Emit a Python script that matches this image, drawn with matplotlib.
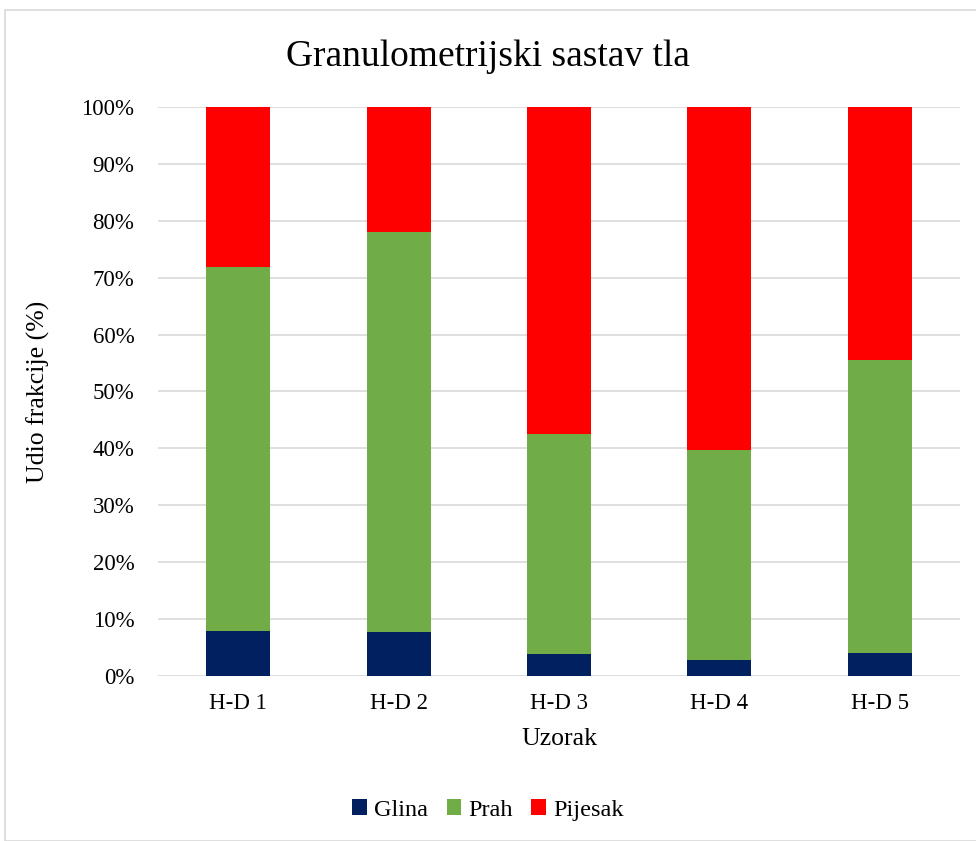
import matplotlib.pyplot as plt
from matplotlib.patches import Rectangle
import numpy as np

# Data (percent of each fraction)
samples = ["H-D 1", "H-D 2", "H-D 3", "H-D 4", "H-D 5"]
glina = [7.9, 7.7, 3.8, 2.8, 4.0]
prah = [63.95, 70.4, 38.8, 36.85, 51.5]
pijesak = [28.15, 21.9, 57.4, 60.35, 44.5]

colors = {"Glina": "#002060", "Prah": "#70AD47", "Pijesak": "#FF0000"}

plt.rcParams['font.family'] = ['Liberation Serif', 'DejaVu Serif']

fig = plt.figure(figsize=(9.76, 8.41), dpi=100)
fig.patches.append(Rectangle((5 / 976, 0), 1.0, 1 - 10 / 841, transform=fig.transFigure,
                             fill=False, edgecolor="#D9D9D9", linewidth=1.2))

ax = fig.add_axes([158 / 976, 1 - 676 / 841, 802 / 976, 569 / 841])

x = np.arange(len(samples))
w = 0.4
ax.bar(x, glina, w, color=colors["Glina"], label="Glina", zorder=3)
ax.bar(x, prah, w, bottom=glina, color=colors["Prah"], label="Prah", zorder=3)
bottom2 = np.array(glina) + np.array(prah)
ax.bar(x, pijesak, w, bottom=bottom2, color=colors["Pijesak"], label="Pijesak", zorder=3)

ax.set_xlim(-0.5, len(samples) - 0.5)
ax.set_ylim(0, 100)
ax.set_yticks(np.arange(0, 101, 10))
ax.set_yticklabels([f"{v}%" for v in range(0, 101, 10)], fontsize=16.5)
ax.set_xticks(x)
ax.set_xticklabels(samples, fontsize=16.5)
ax.tick_params(axis="y", length=0, pad=17)
ax.tick_params(axis="x", length=0, pad=12)
ax.grid(axis="y", color="#D9D9D9", linewidth=1.2, zorder=0)
for s in ["top", "right", "left", "bottom"]:
    ax.spines[s].set_visible(False)

ax.set_xlabel("Uzorak", fontsize=18.5, labelpad=10)
ax.set_ylabel("Udio frakcije (%)", fontsize=18.5)
ax.yaxis.set_label_coords((50 - 158) / 802, 0.5)
fig.text(0.5, 1 - 57 / 841, "Granulometrijski sastav tla", ha="center", va="center", fontsize=27)

fig.legend(loc="center", bbox_to_anchor=(0.5, 1 - 810 / 841), ncol=3, frameon=False,
           fontsize=17.5, handlelength=0.6, handleheight=0.6, columnspacing=0.75, handletextpad=0.3)

fig.savefig("out.png", dpi=100)
